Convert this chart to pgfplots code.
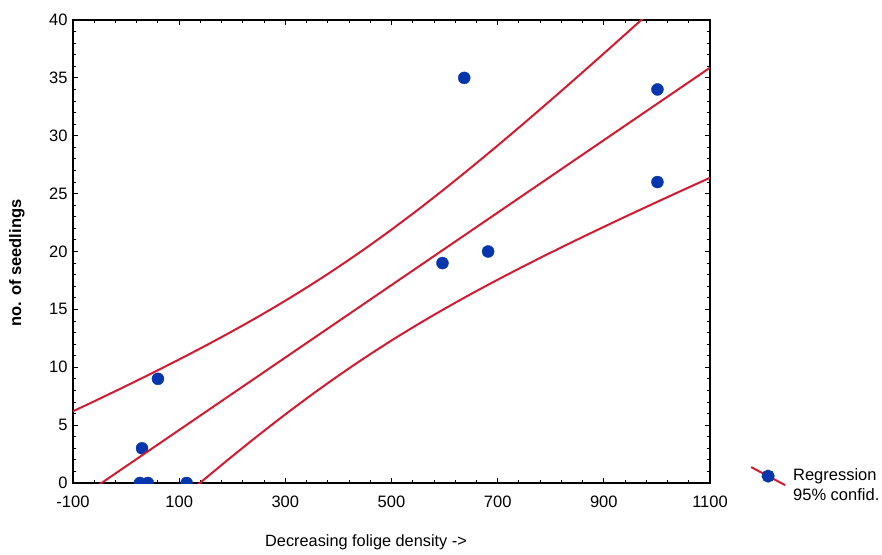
\documentclass[border=0pt]{standalone}
\usepackage{pgfplots}
\pgfplotsset{compat=1.18}
\usepackage{fontspec}
\setmainfont{Liberation Sans}
\definecolor{dotblue}{HTML}{0636AE}
\definecolor{linered}{HTML}{D41A30}
\begin{document}
\begin{tikzpicture}
\path[use as bounding box] (-73pt,-71pt) rectangle (809pt,483pt);
\begin{axis}[
  at={(0,0)}, anchor=south west,
  scale only axis, width=637pt, height=463pt,
  xmin=-100, xmax=1100, ymin=0, ymax=40,
  xtick={-100,100,300,500,700,900,1100},
  xticklabels={-100,100,300,500,700,900,1100},
  ytick={0,5,10,15,20,25,30,35,40},
  yticklabels={0,5,10,15,20,25,30,35,40},
  minor x tick num=4, minor y tick num=4,
  tick align=inside,
  major tick length=5pt, minor tick length=3pt,
  every tick/.style={black, line width=0.9pt},
  axis line style={black, line width=1.4pt},
  ticklabel style={font=\fontsize{16.5}{19}\selectfont},
  xticklabel style={yshift=-9pt},
  yticklabel style={xshift=-2pt},
  xlabel={Decreasing folige density ->},
  ylabel={no. of seedlings},
  xlabel style={at={(axis description cs:0.46,-0.127)}, anchor=center, font=\fontsize{16.3}{19}\selectfont},
  ylabel style={at={(axis description cs:-0.088,0.475)}, anchor=center, font=\bfseries\fontsize{16.5}{19}\selectfont},
  clip marker paths=true,
  legend style={draw=none, fill=none, at={(axis description cs:1.058,-0.004)}, anchor=west,
    font=\fontsize{16.5}{19}\selectfont, row sep=0pt, column sep=5pt},
  legend cell align=left,
]
\addplot[only marks, mark=*, mark size=6pt, dotblue, forget plot] coordinates {
  (26,0) (41,0) (114,0) (30,3) (60,9) (596,19) (682,20) (637,35) (1001,34) (1001,26)
};
\addplot[linered, line width=2pt,
  legend image code/.code={
    \draw[linered, line width=2pt] (0pt,8pt) -- (34pt,-10pt);
    \fill[dotblue] (17pt,-1pt) circle (5.5pt);
  }] coordinates {(-100,-1.68) (1100,35.88)};
\addlegendentry{Regression}
\addplot[linered, line width=2pt, smooth, legend image code/.code={}] coordinates {
  (-100,6.195) (-50,7.28) (0,8.386) (50,9.516) (100,10.676) (150,11.871) (200,13.11)
  (250,14.40) (300,15.752) (350,17.172) (400,18.667) (450,20.24) (500,21.89)
  (550,23.615) (600,25.407) (650,27.257) (700,29.157) (750,31.099) (800,33.076)
  (850,35.081) (900,37.11) (950,39.158) (1000,41.223) (1050,43.30) (1100,45.39)
};
\addlegendentry{95\% confid.}
\addplot[linered, line width=2pt, smooth, forget plot] coordinates {
  (-100,-9.555) (-50,-7.51) (0,-5.486) (50,-3.486) (100,-1.516) (150,0.419) (200,2.31)
  (250,4.149) (300,5.928) (350,7.638) (400,9.273) (450,10.83) (500,12.31)
  (550,13.715) (600,15.053) (650,16.333) (700,17.563) (750,18.751) (800,19.904)
  (850,21.029) (900,22.13) (950,23.212) (1000,24.277) (1050,25.33) (1100,26.37)
};
\end{axis}
\end{tikzpicture}
\end{document}
